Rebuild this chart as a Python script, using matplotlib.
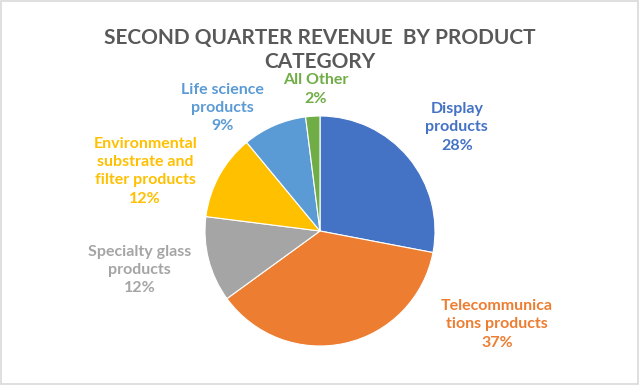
import matplotlib.pyplot as plt
import numpy as np
from matplotlib.patches import Rectangle

FIG_W = 6.4
FIG_H = 3.85
FIG_DPI = 100

labels = ['Display\nproducts', 'Telecommunica\ntions products', 'Specialty glass\nproducts',
          'Environmental\nsubstrate and\nfilter products', 'Life science\nproducts', 'All Other']
shares = [28, 37, 12, 12, 9, 2]
colors = ['#4472C4', '#ED7D31', '#A5A5A5', '#FFC000', '#5B9BD5', '#70AD47']

# label offsets from pie centre, in units of radius
label_pos = [(1.19, 0.90), (1.54, -0.81), (-1.57, -0.34), (-1.52, 0.52), (-0.85, 1.07), (-0.04, 1.23)]

CX, CY, R = 320, 154, 115

plt.rcParams['font.family'] = ['Lato', 'DejaVu Sans']

fig = plt.figure(figsize=(FIG_W, FIG_H), dpi=FIG_DPI)
ax = fig.add_axes([0, 0, 1, 1])

ax.pie(shares, colors=colors, startangle=90, counterclock=False,
       center=(CX, CY), radius=R, frame=True,
       wedgeprops=dict(edgecolor='white', linewidth=0.8))
ax.set_xlim(0, 640)
ax.set_ylim(0, 385)
ax.set_aspect('auto')
ax.axis('off')

for lab, val, col, (dx, dy) in zip(labels, shares, colors, label_pos):
    ax.text(CX + dx * R, CY + dy * R, lab + '\n' + str(val) + '%', color=col,
            fontsize=11.5, fontweight='bold', ha='center', va='center', linespacing=1.4)

fig.text(0.5, 0.87, 'SECOND QUARTER REVENUE  BY PRODUCT\nCATEGORY', ha='center', va='center',
         fontsize=15, fontweight='bold', color='#595959', linespacing=1.25)

fig.patches.append(Rectangle((0.002, 0.003), 0.995, 0.994, transform=fig.transFigure,
                             fill=False, edgecolor='#D9D9D9', linewidth=1.2))

plt.savefig('out.png', dpi=FIG_DPI)
plt.close()
